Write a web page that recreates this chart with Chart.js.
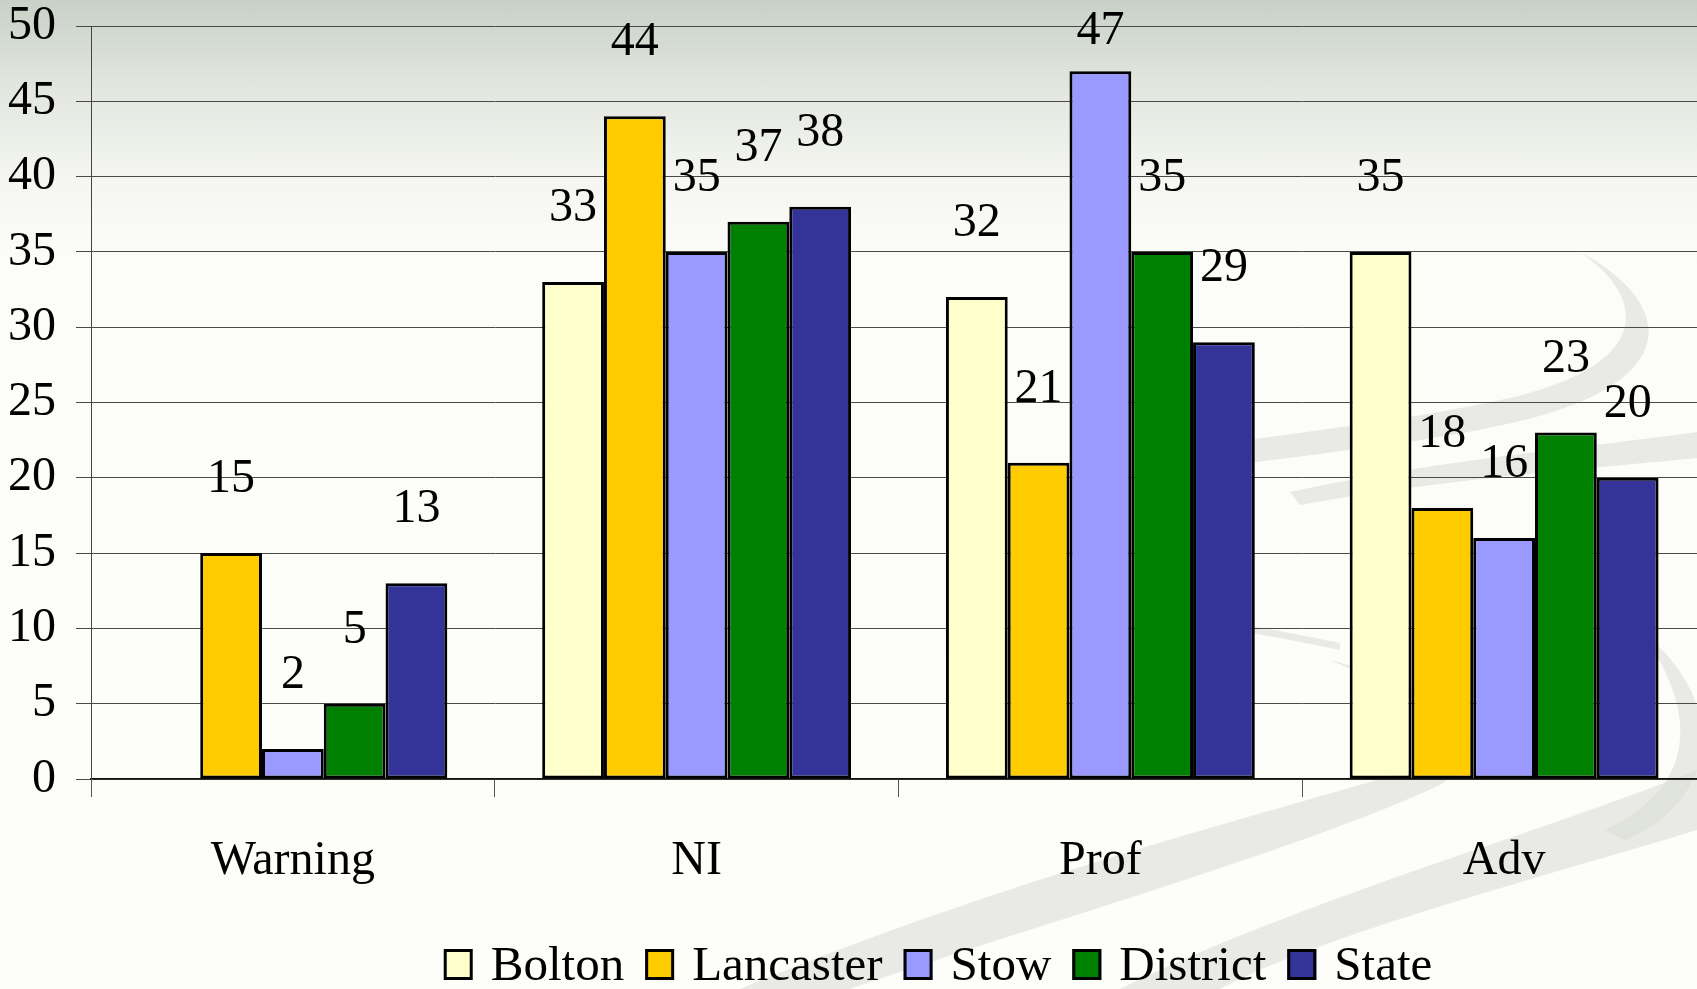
<!DOCTYPE html>
<html>
<head>
<meta charset="utf-8">
<script src="https://cdn.jsdelivr.net/npm/chart.js@4.4.1/dist/chart.umd.min.js"></script>
<style>
    html, body {
        margin: 0;
        padding: 0;
        width: 1697px;
        height: 989px;
        overflow: hidden;
        background: linear-gradient(to bottom, #c8d1c7 0px, #e3e7e0 90px, #f5f6f1 180px, #fcfcf8 260px, #fdfdf9 100%);
    }
    #swoosh {
        position: absolute;
        left: 0;
        top: 0;
    }
    #chart {
        position: absolute;
        left: 0;
        top: 0;
        display: block;
    }
</style>
</head>
<body>
<svg id="swoosh" width="1697" height="989">
    <g fill="#d9dad5" fill-opacity="0.55">
        <path d="M 1580 252 C 1650 300, 1650 365, 1510 398 C 1400 422, 1300 432, 1190 448 L 1195 470 C 1300 455, 1420 445, 1525 420 C 1690 378, 1670 300, 1580 252 Z"/>
        <path d="M 1290 492 C 1450 458, 1600 446, 1697 432 L 1697 458 C 1600 468, 1450 478, 1300 505 Z"/>
        <path d="M 740 989 C 1000 880, 1280 810, 1410 770 C 1470 745, 1450 710, 1330 660 C 1480 700, 1500 745, 1440 785 C 1300 850, 1050 920, 850 989 Z"/>
        <path d="M 1120 989 C 1300 900, 1550 830, 1697 770 L 1697 830 C 1550 875, 1320 935, 1220 989 Z"/>
        <path d="M 1605 830 C 1690 790, 1705 720, 1640 630 C 1730 700, 1720 800, 1625 840 Z"/>
        <path d="M 1200 617 C 1250 625, 1300 635, 1340 643 L 1340 650 C 1300 642, 1250 632, 1200 624 Z"/>
    </g>
</svg>
<canvas id="chart" width="1706" height="989"></canvas>
<script>
const categories = ['Warning', 'NI', 'Prof', 'Adv'];
const seriesNames = ['Bolton', 'Lancaster', 'Stow', 'District', 'State'];
const bolton = [0, 33, 32, 35];
const lancaster = [15, 44, 21, 18];
const stow = [2, 35, 47, 16];
const district = [5, 37, 35, 23];
const state = [13, 38, 29, 20];
const yTicks = [0, 5, 10, 15, 20, 25, 30, 35, 40, 45, 50];

const colors = ['#FFFFCC', '#FFCC00', '#9999FF', '#008000', '#333399'];
const FONT = 'Liberation Serif, Times New Roman, serif';

// value labels above each bar (no label for empty bars)
const valueLabels = {
    id: 'valueLabels',
    afterDatasetsDraw(chart) {
        const ctx = chart.ctx;
        ctx.save();
        ctx.font = '48px ' + FONT;
        ctx.fillStyle = '#000';
        ctx.textAlign = 'center';
        ctx.textBaseline = 'alphabetic';
        chart.data.datasets.forEach((ds, i) => {
            chart.getDatasetMeta(i).data.forEach((bar, j) => {
                const v = ds.data[j];
                if (!v) return;
                const cy = Math.max(bar.y - 77, 28);
                ctx.fillText(String(v), bar.x, cy + 16);
            });
        });
        ctx.restore();
    }
};

// legend drawn below the axis labels
const bottomLegend = {
    id: 'bottomLegend',
    afterDraw(chart) {
        const ctx = chart.ctx;
        const boxW = 29, boxH = 31, gapBox = 18, gapItem = 21;
        const baseY = 980;
        ctx.save();
        ctx.font = '49px ' + FONT;
        const items = chart.data.datasets.map(ds => ({
            label: ds.label,
            color: ds.backgroundColor,
            w: ctx.measureText(ds.label).width
        }));
        const total = items.reduce((a, it) => a + boxW + gapBox + it.w, 0) + gapItem * (items.length - 1);
        let x = 938 - total / 2;
        items.forEach(it => {
            ctx.fillStyle = it.color;
            ctx.fillRect(x, baseY - boxH, boxW, boxH);
            ctx.strokeStyle = '#000';
            ctx.lineWidth = 3;
            ctx.strokeRect(x + 1.5, baseY - boxH + 1.5, boxW - 3, boxH - 3);
            ctx.fillStyle = '#000';
            ctx.textAlign = 'left';
            ctx.textBaseline = 'alphabetic';
            ctx.fillText(it.label, x + boxW + gapBox, baseY);
            x += boxW + gapBox + it.w + gapItem;
        });
        ctx.restore();
    }
};

const seriesData = [bolton, lancaster, stow, district, state];

new Chart(document.getElementById('chart'), {
    type: 'bar',
    data: {
        labels: categories,
        datasets: seriesData.map((d, i) => ({
            label: seriesNames[i],
            data: d,
            backgroundColor: colors[i],
            borderColor: '#000',
            borderWidth: (c) => (c.raw ? 3 : 0),
            borderSkipped: false,
            categoryPercentage: 0.765,
            barPercentage: 1.0
        }))
    },
    options: {
        responsive: false,
        animation: false,
        layout: {
            padding: { top: 26, bottom: 72, left: 0, right: 0 }
        },
        plugins: {
            legend: { display: false },
            tooltip: { enabled: false }
        },
        scales: {
            x: {
                offset: true,
                grid: {
                    offset: true,
                    drawOnChartArea: false,
                    drawTicks: true,
                    tickLength: 18,
                    color: '#555'
                },
                border: { display: true, color: '#111', width: 1.5 },
                ticks: {
                    color: '#000',
                    padding: 40,
                    font: { family: FONT, size: 48, lineHeight: 1 }
                },
                afterFit: (s) => { s.height = 138; }
            },
            y: {
                min: 0,
                max: 50,
                afterBuildTicks: (s) => { s.ticks = yTicks.map(v => ({ value: v })); },
                grid: {
                    color: '#4a4a4a',
                    lineWidth: 1,
                    tickLength: 15
                },
                border: { display: true, color: '#444', width: 1 },
                ticks: {
                    color: '#000',
                    padding: 20,
                    font: { family: FONT, size: 48, lineHeight: 1 }
                },
                afterFit: (s) => {
                    s.width = 91;
                    s.paddingTop = 20;
                    s.paddingBottom = 20;
                }
            }
        }
    },
    plugins: [valueLabels, bottomLegend]
});
</script>
</body>
</html>
